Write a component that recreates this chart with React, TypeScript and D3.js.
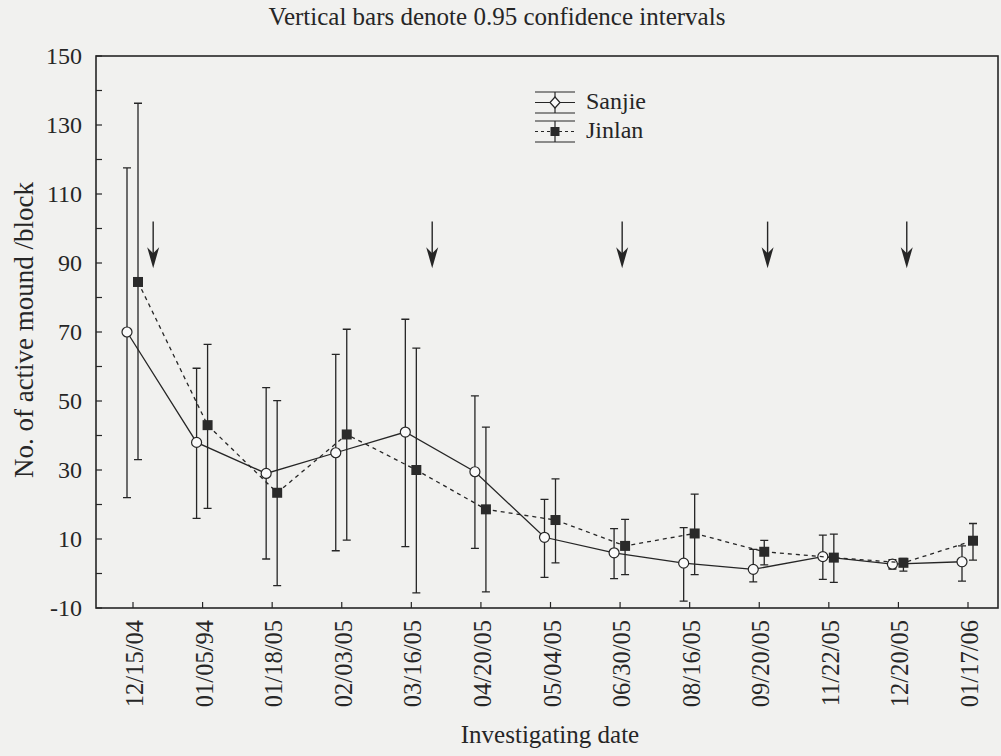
import React, { useEffect, useRef } from 'react'
import * as d3 from 'd3'

// investigating dates (x categories)
const dates = ['12/15/04', '01/05/94', '01/18/05', '02/03/05', '03/16/05', '04/20/05', '05/04/05',
  '06/30/05', '08/16/05', '09/20/05', '11/22/05', '12/20/05', '01/17/06']

// Sanjie: mean and 0.95 CI
const sanjieMean = [70, 38, 29, 35, 41, 29.5, 10.5, 6, 3, 1.2, 4.9, 2.7, 3.4]
const sanjieLow = [22, 16, 4.2, 6.6, 7.8, 7.3, -1.1, -1.5, -8, -2.4, -1.7, 1.3, -2.2]
const sanjieHigh = [117.6, 59.5, 53.9, 63.5, 73.7, 51.5, 21.5, 13, 13.3, 7, 11.1, 4, 8]

// Jinlan: mean and 0.95 CI
const jinlanMean = [84.5, 43, 23.4, 40.3, 30, 18.6, 15.5, 8, 11.6, 6.3, 4.6, 3.1, 9.5]
const jinlanLow = [33, 18.9, -3.5, 9.7, -5.6, -5.3, 3.1, -0.3, -0.3, 2.5, -2.6, 0.7, 3.9]
const jinlanHigh = [136.3, 66.4, 50.1, 70.8, 65.3, 42.4, 27.4, 15.7, 23, 9.6, 11.4, 4.4, 14.5]

// arrows (position in date index units), drawn between value 102 and 88.5
const arrowAt = [0.29, 4.3, 7.03, 9.12, 11.12]
const arrowTop = 102
const arrowTip = 88.5

const yTicks = d3.range(-10, 151, 10)
const yLabels = d3.range(-10, 151, 20)

const W = 1001
const H = 756
const margin = { top: 56, right: 3, bottom: 148, left: 96 }
const width = W - margin.left - margin.right
const height = H - margin.top - margin.bottom

const ink = '#262626'
const font = '"Liberation Serif", "Times New Roman", serif'

const App = () => {
  const ref = useRef<SVGSVGElement>(null)

  useEffect(() => {
    if (!ref.current) return
    const root = d3.select(ref.current)
    root.selectAll('*').remove()

    root.append('rect').attr('width', W).attr('height', H).attr('fill', '#f1f1ef')

    const svg = root.append('g').attr('transform', `translate(${margin.left},${margin.top})`)

    const x = d3.scalePoint<string>().domain(dates).range([37, width - 30])
    const xi = d3.scaleLinear().domain([0, dates.length - 1]).range([37, width - 30])
    const y = d3.scaleLinear().domain([-10, 150]).range([height, 0])

    // frame
    svg.append('rect')
      .attr('width', width).attr('height', height)
      .attr('fill', 'none').attr('stroke', ink).attr('stroke-width', 1.6)

    // y ticks (inward)
    svg.selectAll('.ytick').data(yTicks).enter().append('line')
      .attr('x1', 0).attr('x2', 6)
      .attr('y1', d => y(d)).attr('y2', d => y(d))
      .attr('stroke', ink).attr('stroke-width', 1.2)

    svg.selectAll('.ylab').data(yLabels).enter().append('text')
      .attr('x', -14).attr('y', d => y(d)).attr('dy', '0.35em')
      .attr('text-anchor', 'end')
      .style('font-family', font).style('font-size', '24px').attr('fill', ink)
      .text(d => d)

    // x ticks (inward)
    svg.selectAll('.xtick').data(dates).enter().append('line')
      .attr('x1', d => x(d)!).attr('x2', d => x(d)!)
      .attr('y1', height).attr('y2', height - 6)
      .attr('stroke', ink).attr('stroke-width', 1.2)

    svg.selectAll('.xlab').data(dates).enter().append('text')
      .attr('transform', d => `translate(${x(d)! + 10},${height + 12}) rotate(-90)`)
      .attr('text-anchor', 'end')
      .style('font-family', font).style('font-size', '24.5px').attr('fill', ink)
      .text(d => d)

    // titles
    root.append('text')
      .attr('x', 497).attr('y', 25).attr('text-anchor', 'middle')
      .style('font-family', font).style('font-size', '25px').attr('fill', ink)
      .text('Vertical bars denote 0.95 confidence intervals')

    root.append('text')
      .attr('x', 550).attr('y', 743).attr('text-anchor', 'middle')
      .style('font-family', font).style('font-size', '25px').attr('fill', ink)
      .text('Investigating date')

    root.append('text')
      .attr('transform', `translate(33,330) rotate(-90)`)
      .attr('text-anchor', 'middle')
      .style('font-family', font).style('font-size', '27px').attr('fill', ink)
      .text('No. of active mound /block')

    const series = [
      { name: 'Sanjie', mean: sanjieMean, low: sanjieLow, high: sanjieHigh, dx: -6, dash: null, filled: false },
      { name: 'Jinlan', mean: jinlanMean, low: jinlanLow, high: jinlanHigh, dx: 5, dash: '4,4', filled: true },
    ]

    series.forEach(s => {
      const pts = dates.map((d, i) => ({ x: x(d)! + s.dx, m: s.mean[i], lo: s.low[i], hi: s.high[i] }))
      const g = svg.append('g')

      // error bars
      g.selectAll('.bar').data(pts).enter().append('path')
        .attr('d', p => `M${p.x},${y(p.lo)}V${y(p.hi)}M${p.x - 4},${y(p.hi)}H${p.x + 4}M${p.x - 4},${y(p.lo)}H${p.x + 4}`)
        .attr('stroke', ink).attr('stroke-width', 1.3).attr('fill', 'none')

      // line
      const line = d3.line<any>().x(p => p.x).y(p => y(p.m))
      g.append('path').datum(pts)
        .attr('d', line)
        .attr('fill', 'none').attr('stroke', ink).attr('stroke-width', 1.3)
        .attr('stroke-dasharray', s.dash)

      // markers
      if (s.filled) {
        g.selectAll('.mk').data(pts).enter().append('rect')
          .attr('x', p => p.x - 5).attr('y', p => y(p.m) - 5)
          .attr('width', 10).attr('height', 10).attr('fill', '#2a2a2a')
      } else {
        g.selectAll('.mk').data(pts).enter().append('circle')
          .attr('cx', p => p.x).attr('cy', p => y(p.m)).attr('r', 5)
          .attr('fill', '#fafafa').attr('stroke', ink).attr('stroke-width', 1.2)
      }
    })

    // arrows
    arrowAt.forEach(a => {
      const ax = xi(a)
      const y0 = y(arrowTop)
      const y1 = y(arrowTip)
      svg.append('line')
        .attr('x1', ax).attr('x2', ax).attr('y1', y0).attr('y2', y1 - 10)
        .attr('stroke', ink).attr('stroke-width', 1.4)
      svg.append('path')
        .attr('d', `M${ax - 6},${y1 - 21}L${ax},${y1 - 15}L${ax + 6},${y1 - 21}L${ax},${y1}Z`)
        .attr('fill', ink)
    })

    // legend
    const lg = root.append('g').attr('transform', 'translate(535,92)')
    series.forEach((s, i) => {
      const oy = i * 29
      const row = lg.append('g').attr('transform', `translate(0,${oy})`)
      row.append('path')
        .attr('d', `M0,0H40M0,21H40M20,0V21`)
        .attr('stroke', ink).attr('stroke-width', 1.2)
      row.append('line')
        .attr('x1', 0).attr('x2', 40).attr('y1', 10.5).attr('y2', 10.5)
        .attr('stroke', ink).attr('stroke-width', 1.2).attr('stroke-dasharray', s.dash ? '3,3' : null)
      if (s.filled) {
        row.append('rect').attr('x', 15.5).attr('y', 6).attr('width', 9).attr('height', 9).attr('fill', '#2a2a2a')
      } else {
        row.append('path').attr('d', 'M20,5L25,10.5L20,16L15,10.5Z')
          .attr('fill', '#fafafa').attr('stroke', ink).attr('stroke-width', 1.2)
      }
      row.append('text')
        .attr('x', 51).attr('y', 16.5)
        .style('font-family', font).style('font-size', '24px').attr('fill', ink)
        .text(s.name)
    })
  }, [])

  return (
    <svg
      ref={ref}
      width={W}
      height={H}
      style={{ position: 'absolute', left: 0, top: 0 }}
      role="img"
    ></svg>
  )
}

export default App
